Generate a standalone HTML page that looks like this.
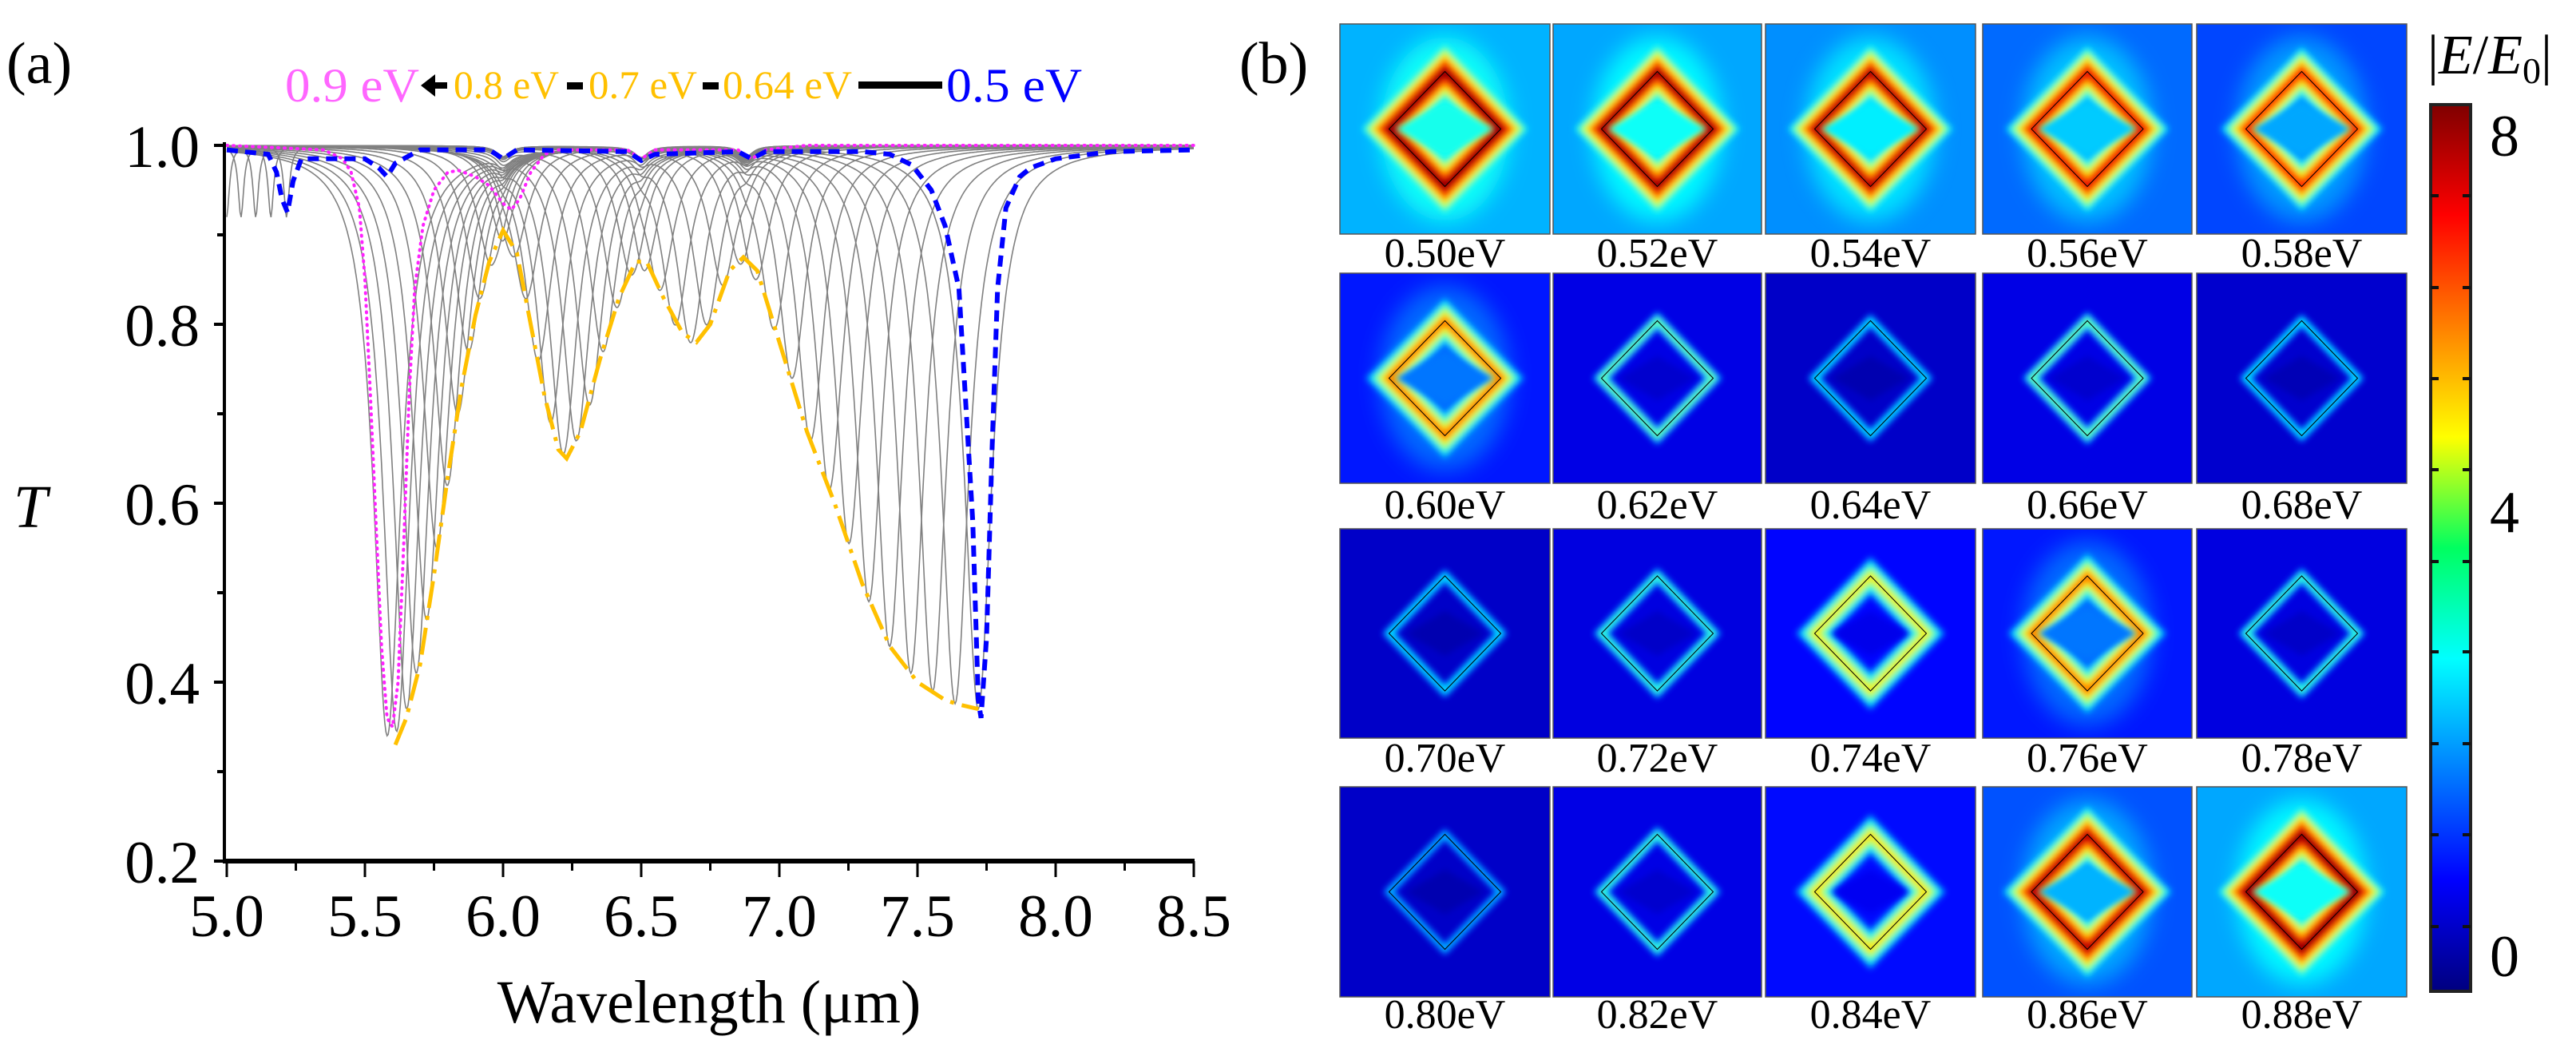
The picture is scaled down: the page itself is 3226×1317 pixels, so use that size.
<!DOCTYPE html>
<html><head><meta charset="utf-8">
<style>
html,body{margin:0;padding:0;background:#fff;font-family:"Liberation Serif","Times New Roman",Times,"DejaVu Serif",serif;}
svg{display:block;}
svg text{font-family:"Liberation Serif","Times New Roman",Times,"DejaVu Serif",serif;}
</style></head>
<body>
<svg id="fig" width="3226" height="1317" viewBox="0 0 3226 1317" xmlns="http://www.w3.org/2000/svg">
<defs>
  <filter id="blur" x="-30%" y="-30%" width="160%" height="160%"><feGaussianBlur stdDeviation="4"/></filter>
  <filter id="blur2" x="-50%" y="-50%" width="200%" height="200%"><feGaussianBlur stdDeviation="14"/></filter>
  <linearGradient id="jetgrad" x1="0" y1="1" x2="0" y2="0">
    <stop offset="0" stop-color="#00007f"/>
    <stop offset="0.125" stop-color="#0000ff"/>
    <stop offset="0.375" stop-color="#00ffff"/>
    <stop offset="0.5" stop-color="#00ff60"/>
    <stop offset="0.625" stop-color="#ffff00"/>
    <stop offset="0.875" stop-color="#ff0000"/>
    <stop offset="1" stop-color="#7f0000"/>
  </linearGradient>
</defs>

<text x="8" y="104" font-size="74">(a)</text>
<text x="1552" y="104" font-size="74">(b)</text>

<g font-size="60">
  <text x="357" y="127" fill="#ff66ff" textLength="168" lengthAdjust="spacingAndGlyphs">0.9 eV</text>
  <path d="M527,107 L545,93 L545,103 L560,103 L560,111 L545,111 L545,121 Z" fill="#000"/>
  <text x="568" y="123" fill="#ffc000" font-size="50" textLength="132" lengthAdjust="spacingAndGlyphs">0.8 eV</text>
  <rect x="710" y="103" width="20" height="9" fill="#000"/>
  <text x="737" y="123" fill="#ffc000" font-size="50" textLength="136" lengthAdjust="spacingAndGlyphs">0.7 eV</text>
  <rect x="880" y="103" width="20" height="9" fill="#000"/>
  <text x="905" y="123" fill="#ffc000" font-size="50" textLength="162" lengthAdjust="spacingAndGlyphs">0.64 eV</text>
  <rect x="1075" y="102" width="105" height="9" fill="#000"/>
  <text x="1185" y="127" fill="#0000ff" textLength="170" lengthAdjust="spacingAndGlyphs">0.5 eV</text>
</g>

<g id="plotA"></g>
<g id="panelB"></g>

<g>
  <rect x="3044" y="131" width="50" height="1110" fill="url(#jetgrad)" stroke="#222" stroke-width="4"/>
  <g id="cbticks" stroke="#111" stroke-width="4"></g>
  <text x="3118" y="195" font-size="74">8</text>
  <text x="3118" y="666" font-size="74">4</text>
  <text x="3118" y="1222" font-size="74">0</text>
  <text x="3040" y="92" font-size="70">|<tspan font-style="italic">E</tspan>/<tspan font-style="italic">E</tspan><tspan font-size="46" dy="12">0</tspan><tspan dy="-12">|</tspan></text>
</g>
</svg>

<script>
// ---------------- Panel (a) data ----------------
var xTicks = [5.0, 5.5, 6.0, 6.5, 7.0, 7.5, 8.0, 8.5];
var xTickLabels = ["5.0","5.5","6.0","6.5","7.0","7.5","8.0","8.5"];
var yTicks = [0.2, 0.4, 0.6, 0.8, 1.0];
var yTickLabels = ["0.2","0.4","0.6","0.8","1.0"];
var energies = [0.50,0.51,0.52,0.53,0.54,0.55,0.56,0.57,0.58,0.59,0.60,0.61,0.62,0.63,0.64,0.65,0.66,0.67,0.68,0.69,0.70,0.71,0.72,0.73,0.74,0.75,0.76,0.77,0.78,0.79,0.80,0.81,0.82,0.83,0.84,0.85,0.86,0.87,0.88,0.89,0.90];
var dipCenters = [7.720,7.636,7.555,7.476,7.399,7.324,7.252,7.181,7.113,7.046,6.981,6.917,6.856,6.795,6.737,6.679,6.623,6.568,6.515,6.463,6.412,6.362,6.313,6.265,6.218,6.172,6.127,6.083,6.040,5.997,5.956,5.915,5.875,5.836,5.798,5.760,5.723,5.686,5.651,5.615,5.581];
var dipMins = [0.37,0.376,0.39,0.41,0.44,0.49,0.555,0.615,0.67,0.74,0.795,0.855,0.875,0.845,0.80,0.78,0.80,0.84,0.87,0.86,0.82,0.77,0.71,0.67,0.655,0.69,0.76,0.83,0.88,0.905,0.87,0.83,0.77,0.70,0.62,0.55,0.47,0.41,0.37,0.345,0.34];
var magentaX = [5.0,5.35,5.42,5.45,5.48,5.50,5.52,5.54,5.56,5.58,5.60,5.62,5.64,5.66,5.68,5.71,5.75,5.80,5.84,5.90,5.95,6.00,6.03,6.06,6.10,6.15,6.20,6.45,6.50,6.55,6.85,6.90,6.95,7.10,8.50];
var magentaY = [1.0,0.995,0.985,0.97,0.93,0.85,0.72,0.58,0.44,0.36,0.35,0.40,0.55,0.72,0.84,0.91,0.95,0.97,0.972,0.965,0.955,0.935,0.928,0.94,0.97,0.99,0.995,0.995,0.985,0.995,0.995,0.985,0.995,1.0,1.0];
var blueX = [5.0,5.15,5.18,5.20,5.22,5.24,5.27,5.50,5.55,5.58,5.61,5.70,5.95,6.00,6.05,6.45,6.50,6.55,6.85,6.90,6.95,7.30,7.40,7.48,7.55,7.60,7.65,7.70,7.72,7.73,7.75,7.77,7.79,7.82,7.87,7.91,8.00,8.20,8.50];
var blueY = [0.995,0.99,0.97,0.94,0.925,0.96,0.985,0.985,0.975,0.965,0.98,0.995,0.995,0.985,0.995,0.993,0.983,0.99,0.993,0.985,0.993,0.993,0.99,0.978,0.95,0.91,0.84,0.58,0.38,0.36,0.45,0.66,0.84,0.93,0.965,0.975,0.985,0.993,0.995];
var envX = [5.61,5.65,5.70,5.75,5.80,5.85,5.90,5.95,6.00,6.05,6.10,6.15,6.20,6.23,6.28,6.35,6.42,6.48,6.52,6.58,6.65,6.70,6.75,6.82,6.87,6.92,7.00,7.10,7.20,7.30,7.40,7.50,7.60,7.65,7.72];
var envY = [0.33,0.36,0.42,0.52,0.63,0.73,0.81,0.87,0.905,0.88,0.80,0.72,0.66,0.65,0.68,0.76,0.83,0.87,0.87,0.83,0.79,0.78,0.80,0.86,0.875,0.86,0.78,0.68,0.60,0.51,0.44,0.40,0.38,0.375,0.37];

// ---------------- Panel (b) data ----------------
var mapEnergies = ["0.50eV","0.52eV","0.54eV","0.56eV","0.58eV","0.60eV","0.62eV","0.64eV","0.66eV","0.68eV","0.70eV","0.72eV","0.74eV","0.76eV","0.78eV","0.80eV","0.82eV","0.84eV","0.86eV","0.88eV"];
var mapPeak = [8.6,8.4,8.2,7.8,7.4,6.6,4.0,3.0,4.0,3.0,3.0,3.6,5.4,6.6,3.6,2.6,3.6,5.6,8.2,8.6];
var mapBg = [2.3,2.2,2.0,1.7,1.4,1.0,0.6,0.35,0.6,0.4,0.35,0.55,0.85,1.0,0.55,0.35,0.6,0.9,1.5,2.2];

var NS = "http://www.w3.org/2000/svg";
function mk(tag, attrs, parent){ var e=document.createElementNS(NS,tag); for(var k in attrs) e.setAttribute(k,attrs[k]); if(parent) parent.appendChild(e); return e; }

function X(l){ return 284 + (l-5.0)*346; }
function Y(t){ return 182 + (1.0-t)*1120; }

var gA = document.getElementById('plotA');

var gGray = mk('g',{fill:'none',stroke:'#808080','stroke-width':'1.6'},gA);


for (var i=0;i<energies.length;i++){
  var c=dipCenters[i], d=1-dipMins[i], g=0.06, c2=c/1.48;
  var pts=[];
  for (var l=5.0;l<=8.5001;l+=0.004){
    var t = 1 - d/(1+Math.pow((l-c)/g,2))
              - 0.08/(1+Math.pow((l-c2)/0.012,2))
              - 0.012/(1+Math.pow((l-6.0)/0.03,2))
              - 0.012/(1+Math.pow((l-6.5)/0.03,2))
              - 0.012/(1+Math.pow((l-6.88)/0.03,2));
    pts.push(X(l).toFixed(1)+','+Y(t).toFixed(1));
  }
  var p = mk('path',{d:'M'+pts.join('L')},gGray);
  
  
}
function polyline(xs,ys){ var s=[]; for(var i=0;i<xs.length;i++) s.push(X(xs[i]).toFixed(1)+','+Y(ys[i]).toFixed(1)); return 'M'+s.join('L'); }
var env = mk('path',{d:polyline(envX,envY),fill:'none',stroke:'#ffc000','stroke-width':'5','stroke-dasharray':'34 10 5 10'},gA);


var mag = mk('path',{d:polyline(magentaX,magentaY),fill:'none',stroke:'#ff22ff','stroke-width':'4','stroke-dasharray':'1 7','stroke-linecap':'round'},gA);


var blu = mk('path',{d:polyline(blueX,blueY),fill:'none',stroke:'#0000ff','stroke-width':'6','stroke-dasharray':'14 9'},gA);



var yAx = mk('line',{x1:281,y1:178,x2:281,y2:1080,stroke:'#000','stroke-width':'4'},gA);


var xAx = mk('line',{x1:279,y1:1078,x2:1496,y2:1078,stroke:'#000','stroke-width':'6'},gA);


for (var i=0;i<xTicks.length;i++){
  var tk = mk('line',{x1:X(xTicks[i]),y1:1078,x2:X(xTicks[i]),y2:1098,stroke:'#000','stroke-width':'3'},gA);
  
  
  if (i<xTicks.length-1){
    var mt = mk('line',{x1:X(xTicks[i]+0.25),y1:1078,x2:X(xTicks[i]+0.25),y2:1090,stroke:'#000','stroke-width':'3'},gA);
    
    
  }
  var tl = mk('text',{x:X(xTicks[i]),y:1172,'font-size':'75','text-anchor':'middle'},gA);
  tl.textContent = xTickLabels[i];
  
  
}
for (var i=0;i<yTicks.length;i++){
  var tk = mk('line',{x1:268,y1:Y(yTicks[i]),x2:281,y2:Y(yTicks[i]),stroke:'#000','stroke-width':'4'},gA);
  
  
  if (i<yTicks.length-1){
    var mt = mk('line',{x1:272,y1:Y(yTicks[i]+0.1),x2:281,y2:Y(yTicks[i]+0.1),stroke:'#000','stroke-width':'4'},gA);
    
    
  }
  var tl = mk('text',{x:250,y:Y(yTicks[i])+27,'font-size':'75','text-anchor':'end'},gA);
  tl.textContent = yTickLabels[i];
  
  
}
var xt = mk('text',{x:888,y:1280,'font-size':'76','text-anchor':'middle'},gA);
xt.textContent = 'Wavelength (μm)';


var yt = mk('text',{x:38,y:660,'font-size':'76','font-style':'italic','text-anchor':'middle'},gA);
yt.textContent = 'T';



function jet(v){
  var t=Math.max(0,Math.min(1,(v+0.25)/8.5));
  function cl(x){return Math.round(255*Math.max(0,Math.min(1,x)));}
  return 'rgb('+cl(1.5-Math.abs(4*t-3))+','+cl(1.5-Math.abs(4*t-2))+','+cl(1.5-Math.abs(4*t-1))+')';
}
var colX = [[1678,1941],[1945,2206],[2211,2474],[2483,2745],[2751,3014]];
var rowY = [[30,293],[342,605],[662,924],[985,1248]];
var labelY = [334,649,966,1287];
var gB = document.getElementById('panelB');
for (var k=0;k<mapEnergies.length;k++){
  var r=Math.floor(k/5), c=k%5;
  var x0=colX[c][0], x1=colX[c][1], y0=rowY[r][0], y1=rowY[r][1];
  var cx=(x0+x1)/2, cy=(y0+y1)/2, hw=70, hh=72;
  var tile = mk('g',{},gB);
  
  
  var cp = mk('clipPath',{id:'cp'+k},tile);
  mk('rect',{x:x0,y:y0,width:x1-x0,height:y1-y0},cp);
  var inner = mk('g',{'clip-path':'url(#cp'+k+')'},tile);
  mk('rect',{x:x0,y:y0,width:x1-x0,height:y1-y0,fill:jet(mapBg[k])},inner);
  var L=mapPeak[k], bg=mapBg[k];
  var dpath='M'+(cx-hw)+','+cy+'L'+cx+','+(cy-hh)+'L'+(cx+hw)+','+cy+'L'+cx+','+(cy+hh)+'Z';
  if (L>=6){
    mk('ellipse',{cx:cx,cy:cy,rx:hw*1.15,ry:hh*1.6,fill:jet(bg+0.7),filter:'url(#blur2)'},inner);
  }
  var kk = (L>=5) ? 8 : 5;
  var gl = mk('g',{filter:'url(#blur)',fill:'none','stroke-linejoin':'miter','stroke-miterlimit':'3'},inner);
  for (var v=bg+0.5; v<=L; v+=0.4){
    mk('path',{d:dpath,stroke:jet(v),'stroke-width':(3+kk*(L-v)).toFixed(1)},gl);
  }
  if (L>=6){
    mk('path',{d:'M'+(cx-hw+8)+','+cy+'L'+cx+','+(cy-hh+38)+'L'+(cx+hw-8)+','+cy+'L'+cx+','+(cy+hh-38)+'Z',fill:jet(bg+0.8),filter:'url(#blur)'},inner);
  } else {
    mk('path',{d:'M'+(cx-hw+22)+','+cy+'L'+cx+','+(cy-hh+44)+'L'+(cx+hw-22)+','+cy+'L'+cx+','+(cy+hh-44)+'Z',fill:jet(bg-0.2),filter:'url(#blur)'},inner);
  }
  mk('path',{d:dpath,fill:'none',stroke:'#000','stroke-width':'1'},inner);
  mk('rect',{x:x0,y:y0,width:x1-x0,height:y1-y0,fill:'none',stroke:'#555','stroke-width':'1.5'},tile);
  var lb = mk('text',{x:cx,y:labelY[r],'font-size':'52','text-anchor':'middle'},gB);
  lb.textContent = mapEnergies[k];
  
  
}
var cbTickY = [245,360,474,588,703,816,931,1045,1160];
var gT = document.getElementById('cbticks');
for (var i=0;i<cbTickY.length;i++){
  var a = mk('line',{x1:3044,y1:cbTickY[i],x2:3054,y2:cbTickY[i]},gT);
  
  
  var b = mk('line',{x1:3084,y1:cbTickY[i],x2:3094,y2:cbTickY[i]},gT);
  
  
}
</script>
</body></html>
